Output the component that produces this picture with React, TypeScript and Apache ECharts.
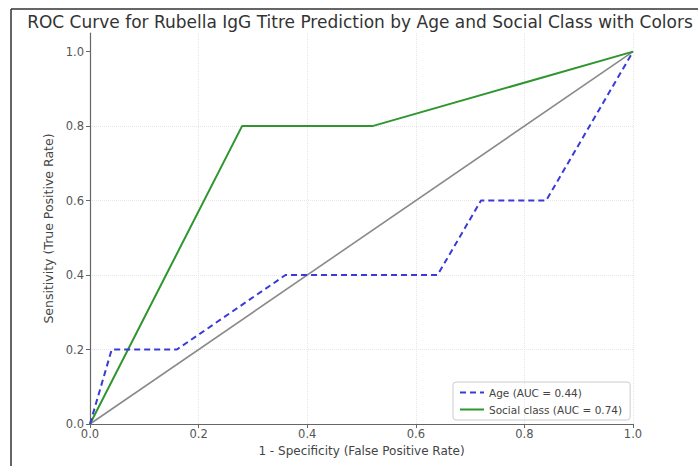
import React, { useEffect, useRef } from "react";
import * as echarts from "echarts";

const ageFpr = [0, 0.04, 0.16, 0.36, 0.64, 0.72, 0.84, 1.0];
const ageTpr = [0, 0.2, 0.2, 0.4, 0.4, 0.6, 0.6, 1.0];
const socialFpr = [0, 0.28, 0.52, 1.0];
const socialTpr = [0, 0.8, 0.8, 1.0];
const diagonal = [0, 1];
const tickValues = [0, 0.2, 0.4, 0.6, 0.8, 1.0];
const seriesNames = ["Age (AUC = 0.44)", "Social class (AUC = 0.74)"];

const FONT = "DejaVu Sans";

export default function App() {
  const ref = useRef<HTMLDivElement>(null);
  useEffect(() => {
    if (!ref.current) return;
    const chart = echarts.init(ref.current, undefined, { renderer: "svg" });
    const zip = (xs: number[], ys: number[]) => xs.map((x, i) => [x, ys[i]]);
    chart.setOption({
      animation: false,
      backgroundColor: "#ffffff",
      textStyle: { fontFamily: FONT },
      title: {
        text: "ROC Curve for Rubella IgG Titre Prediction by Age and Social Class with Colors",
        left: 355,
        textAlign: "center",
        top: 8,
        textStyle: { fontFamily: FONT, fontSize: 17, fontWeight: "normal", color: "#333" },
      },
      graphic: [
        { type: "line", shape: { x1: 11, y1: 9, x2: 11, y2: 466 }, style: { stroke: "#333", lineWidth: 1.5 } },
        { type: "line", shape: { x1: 11, y1: 9, x2: 698, y2: 9 }, style: { stroke: "#333", lineWidth: 1.5 } },
      ],
      grid: { left: 90, right: 65, top: 33, bottom: 42 },
      legend: {
        orient: "vertical",
        left: 453,
        top: 382,
        data: seriesNames,
        itemWidth: 24,
        itemHeight: 8,
        itemGap: 6,
        padding: [5, 8, 5, 6],
        borderColor: "#ccc",
        borderWidth: 1,
        borderRadius: 3,
        itemStyle: { opacity: 0 },
        textStyle: { fontFamily: FONT, fontSize: 10.5, color: "#444" },
      },
      xAxis: {
        type: "value",
        min: 0,
        max: 1,
        interval: 0.2,
        name: "1 - Specificity (False Positive Rate)",
        nameLocation: "middle",
        nameGap: 21,
        nameTextStyle: { fontFamily: FONT, fontSize: 12, color: "#444" },
        axisLine: { show: true, lineStyle: { color: "#666", width: 1.2 } },
        axisTick: { show: true, length: 4, lineStyle: { color: "#666" } },
        axisLabel: { fontFamily: FONT, fontSize: 11.5, color: "#555", margin: 4, formatter: (v: number) => v.toFixed(1) },
        splitLine: { show: true, lineStyle: { color: "#e6e6e6", type: "dotted" } },
      },
      yAxis: {
        type: "value",
        min: 0,
        max: 1.05,
        interval: 0.2,
        name: "Sensitivity (True Positive Rate)",
        nameLocation: "middle",
        nameGap: 27,
        nameTextStyle: { fontFamily: FONT, fontSize: 12.5, color: "#444" },
        axisLine: { show: true, lineStyle: { color: "#666", width: 1.2 } },
        axisTick: { show: true, length: 4, lineStyle: { color: "#666" }, customValues: tickValues },
        axisLabel: {
          fontFamily: FONT,
          fontSize: 11.5,
          color: "#555",
          margin: 6,
          customValues: tickValues,
          formatter: (v: number) => v.toFixed(1),
        },
        splitLine: { show: true, showMaxLine: false, lineStyle: { color: "#e6e6e6", type: "dotted" } },
      },
      series: [
        {
          name: "diag",
          type: "line",
          data: zip(diagonal, diagonal),
          symbol: "none",
          lineStyle: { color: "#8a8a8a", width: 1.6 },
          z: 1,
        },
        {
          name: seriesNames[0],
          type: "line",
          data: zip(ageFpr, ageTpr),
          symbol: "none",
          color: "#3a3ad6",
          lineStyle: { color: "#3a3ad6", width: 2, type: [6, 4] },
          z: 3,
        },
        {
          name: seriesNames[1],
          type: "line",
          data: zip(socialFpr, socialTpr),
          symbol: "none",
          color: "#2f962f",
          lineStyle: { color: "#2f962f", width: 2 },
          z: 2,
        },
      ],
    });
    return () => chart.dispose();
  }, []);
  return (
    <div
      ref={ref}
      style={{ position: "fixed", left: 0, top: 0, width: 698, height: 466, background: "#fff" }}
    />
  );
}
